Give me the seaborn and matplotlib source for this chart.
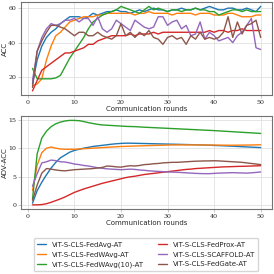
import numpy as np
import pandas as pd
import matplotlib
matplotlib.use("Agg")
import matplotlib.pyplot as plt
import seaborn as sns

# -------------------------------
# Data
# -------------------------------
rounds = list(range(1, 51))

methods = [
    "ViT-S-CLS-FedAvg-AT",
    "ViT-S-CLS-FedWAvg-AT",
    "ViT-S-CLS-FedWAvg(10)-AT",
    "ViT-S-CLS-FedProx-AT",
    "ViT-S-CLS-SCAFFOLD-AT",
    "ViT-S-CLS-FedGate-AT",
]

acc_fedavg = [16, 30, 38, 43, 46, 48, 51, 53, 55, 55, 55, 54, 55, 57, 56, 57, 58, 58, 59, 58,
              58, 57, 58, 59, 58, 59, 60, 59, 59, 58, 59, 59, 60, 59, 59, 60, 59, 60, 61, 60,
              59, 59, 60, 60, 59, 59, 60, 59, 58, 61]
acc_fedwavg = [15, 16, 19, 30, 38, 44, 46, 49, 52, 53, 54, 55, 55, 55, 56, 56, 57, 57, 57, 57,
               57, 57, 56, 57, 57, 58, 57, 57, 57, 57, 56, 57, 57, 57, 57, 56, 57, 57, 57, 56,
               56, 56, 57, 57, 56, 55, 55, 55, 56, 56]
acc_fedwavg10 = [25, 19, 19, 19, 19, 19.5, 21, 26, 31, 35, 39, 43, 48, 52, 54, 56, 57, 58, 59, 61,
                 60, 59, 58, 57, 59, 61, 59, 60, 59, 58, 59, 59, 58, 59, 59, 60, 59, 59, 58, 58,
                 56, 57, 58, 59, 59, 58, 59, 58, 58, 58]
acc_fedprox = [12, 18, 24, 26, 28, 30, 32, 34, 34, 35, 36, 37, 39, 39, 41, 42, 43, 44, 44, 44,
               44, 45, 44, 45, 45, 45, 46, 45, 46, 46, 46, 46, 46, 46, 46, 46, 46, 46, 47, 46,
               47, 47, 46, 47, 47, 48, 47, 47, 47, 47]
acc_scaffold = [18, 35, 43, 48, 51, 50, 51, 53, 53, 54, 52, 54, 54, 50, 55, 48, 46, 48, 53, 51,
                49, 47, 53, 51, 49, 48, 49, 55, 55, 50, 52, 53, 48, 50, 44, 45, 52, 42, 46, 44,
                41, 42, 43, 40, 44, 46, 50, 54, 37, 36]
acc_fedgate = [14, 35, 41, 46, 50, 50, 49, 48, 46, 44, 46, 46, 44, 44, 46, 44, 43, 42, 44, 51,
               44, 46, 43, 46, 44, 47, 43, 42, 39, 43, 44, 42, 43, 39, 44, 42, 46, 42, 43, 42,
               43, 46, 55, 43, 52, 45, 50, 51, 53, 43]

adv_fedavg = [0.3, 2.5, 4.0, 5.3, 6.5, 7.5, 8.3, 8.8, 9.3, 9.6, 9.8, 10.0, 10.15, 10.3, 10.4,
              10.5, 10.6, 10.7, 10.78, 10.84, 10.88, 10.88, 10.86, 10.84, 10.82, 10.8, 10.78,
              10.76, 10.74, 10.72, 10.7, 10.68, 10.66, 10.64, 10.62, 10.6, 10.58, 10.55, 10.52,
              10.48, 10.45, 10.42, 10.38, 10.35, 10.3, 10.26, 10.22, 10.18, 10.14, 10.1]
adv_fedwavg = [2.5, 7.0, 9.2, 10.0, 10.2, 10.0, 9.85, 9.8, 9.8, 9.8, 9.85, 9.9, 9.95, 10.0, 10.05,
               10.1, 10.15, 10.2, 10.25, 10.3, 10.32, 10.35, 10.38, 10.4, 10.42, 10.45, 10.48,
               10.5, 10.52, 10.55, 10.56, 10.57, 10.58, 10.58, 10.58, 10.58, 10.57, 10.56, 10.55,
               10.55, 10.54, 10.53, 10.52, 10.52, 10.53, 10.54, 10.55, 10.56, 10.58, 10.6]
adv_fedwavg10 = [1.0, 9.0, 11.8, 13.0, 13.8, 14.3, 14.6, 14.8, 14.9, 14.9, 14.85, 14.7, 14.5,
                 14.35, 14.2, 14.1, 14.05, 14.0, 13.95, 13.9, 13.85, 13.82, 13.8, 13.75, 13.7,
                 13.66, 13.62, 13.58, 13.54, 13.5, 13.46, 13.42, 13.38, 13.34, 13.3, 13.26, 13.22,
                 13.18, 13.14, 13.1, 13.05, 13.0, 12.95, 12.9, 12.85, 12.8, 12.75, 12.7, 12.65, 12.6]
adv_fedprox = [0.0, 0.0, 0.05, 0.2, 0.45, 0.75, 1.05, 1.4, 1.8, 2.2, 2.5, 2.8, 3.05, 3.3, 3.55,
               3.8, 4.0, 4.2, 4.4, 4.6, 4.8, 4.95, 5.05, 5.2, 5.35, 5.45, 5.55, 5.65, 5.75, 5.85,
               5.95, 6.05, 6.15, 6.25, 6.3, 6.4, 6.45, 6.5, 6.55, 6.6, 6.65, 6.7, 6.72, 6.75,
               6.78, 6.8, 6.82, 6.85, 6.88, 6.9]
adv_scaffold = [3.3, 5.5, 7.4, 7.6, 7.9, 7.8, 7.6, 7.55, 7.4, 7.2, 7.1, 6.95, 6.85, 6.7, 6.55,
                6.45, 6.35, 6.3, 6.25, 6.2, 6.25, 6.3, 6.25, 6.15, 6.1, 6.0, 5.95, 5.9, 5.85,
                5.8, 5.78, 5.75, 5.7, 5.65, 5.6, 5.55, 5.52, 5.5, 5.5, 5.55, 5.6, 5.62, 5.65,
                5.68, 5.65, 5.62, 5.6, 5.65, 5.72, 5.8]
adv_fedgate = [0.8, 3.5, 5.6, 6.4, 6.3, 6.15, 6.05, 6.0, 6.1, 6.2, 6.25, 6.3, 6.35, 6.4, 6.5,
               6.6, 6.85, 6.8, 6.7, 6.65, 6.8, 6.9, 6.85, 6.95, 7.1, 7.15, 7.25, 7.3, 7.4, 7.45,
               7.5, 7.5, 7.55, 7.6, 7.65, 7.7, 7.72, 7.75, 7.75, 7.78, 7.75, 7.7, 7.65, 7.6,
               7.55, 7.5, 7.4, 7.3, 7.2, 7.1]

acc_series = [acc_fedavg, acc_fedwavg, acc_fedwavg10, acc_fedprox, acc_scaffold, acc_fedgate]
adv_series = [adv_fedavg, adv_fedwavg, adv_fedwavg10, adv_fedprox, adv_scaffold, adv_fedgate]


def to_long(series):
    frames = []
    for name, vals in zip(methods, series):
        frames.append(pd.DataFrame({"round": rounds, "value": vals, "method": name}))
    return pd.concat(frames, ignore_index=True)


acc_df = to_long(acc_series)
adv_df = to_long(adv_series)

# -------------------------------
# Plot
# -------------------------------
sns.set_theme(style="whitegrid")
plt.rcParams["font.family"] = ["DejaVu Sans"]
plt.rcParams["axes.edgecolor"] = "0.45"
plt.rcParams["axes.linewidth"] = 0.8
plt.rcParams["grid.color"] = "0.88"
plt.rcParams["grid.linewidth"] = 0.6

palette = sns.color_palette("tab10", 6)

fig = plt.figure(figsize=(2.74, 2.74), dpi=100)
ax1 = fig.add_axes([0.077, 0.653, 0.916, 0.339])
ax2 = fig.add_axes([0.077, 0.237, 0.916, 0.339])

sns.lineplot(data=acc_df, x="round", y="value", hue="method", palette=palette,
             linewidth=1.0, ax=ax1, legend=False)
sns.lineplot(data=adv_df, x="round", y="value", hue="method", palette=palette,
             linewidth=1.0, ax=ax2)

for ax, lab in [(ax1, "ACC"), (ax2, "ADV-ACC")]:
    ax.set_xlabel("Communication rounds", fontsize=5, labelpad=1)
    ax.set_ylabel(lab, fontsize=5)
    ax.set_xticks([0, 10, 20, 30, 40, 50])
    ax.tick_params(axis="both", labelsize=4.5, pad=1, length=2.5, width=0.6,
                   color="0.75", bottom=True, left=True)
    for t in ax.get_xticklabels() + ax.get_yticklabels():
        t.set_family("DejaVu Serif")
    ax.yaxis.set_label_coords(-0.054, 0.5)

ax1.set_yticks([20, 40, 60])
ax2.set_yticks([0, 5, 10, 15])

handles, labels = ax2.get_legend_handles_labels()
ax2.get_legend().remove()
fig.legend(handles, labels, loc="upper center", bbox_to_anchor=(0.533, 0.143),
           ncol=2, fontsize=5, frameon=True, edgecolor="0.8", fancybox=True,
           handlelength=1.3, columnspacing=2.0, labelspacing=0.55, borderpad=0.5)

fig.savefig("out.png", dpi=100)
plt.close(fig)
